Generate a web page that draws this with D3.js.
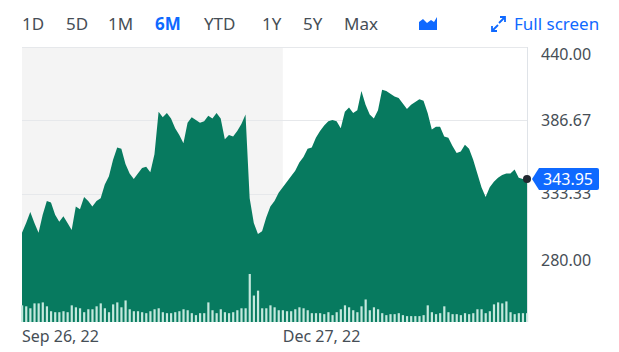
<!DOCTYPE html>
<html>
<head>
<meta charset="utf-8">
<script src="https://cdn.jsdelivr.net/npm/d3@7"></script>
<style>
  body { margin: 0; background: #fff; }
  svg { display: block; font-family: "Noto Sans", "Open Sans", sans-serif; }
</style>
</head>
<body>
<div id="chart"></div>
<script>
// range buttons on top
var ranges = ["1D", "5D", "1M", "6M", "YTD", "1Y", "5Y", "Max"];
var activeRange = "6M";

// daily close, Sep 26 2022 .. Mar 2023
var prices = [305, 312, 320, 312, 305, 318, 328, 327, 318, 313,
  317, 312, 307, 324, 322, 331, 328, 324, 328, 330,
  340, 346, 358, 367, 366, 355, 348, 344, 348, 352,
  353, 349, 362, 393, 389, 392, 388, 381, 376, 370,
  385, 389, 387, 385, 386, 390, 388, 392, 388, 373,
  376, 375, 379, 384, 391, 330, 312, 304, 306, 316,
  324, 328, 334, 338, 342, 346, 350, 356, 360, 366,
  367, 374, 379, 383, 386, 387, 386, 381, 393, 396,
  392, 394, 408, 398, 391, 388, 394, 409, 408, 406,
  404, 403, 399, 395, 398, 400, 402, 401, 392, 380,
  382, 382, 375, 374, 368, 363, 364, 369, 366, 358,
  348, 338, 331, 338, 342, 345, 347, 348, 348, 351,
  345, 344, 343.95];

// daily volume (millions)
var volumes = [1.7, 1.6, 1.4, 1.9, 1.9, 2.0, 1.6, 1.1, 1.0, 1.0,
  1.1, 1.0, 1.7, 1.5, 1.4, 1.0, 1.3, 1.3, 1.6, 1.9,
  1.4, 1.0, 1.8, 2.0, 1.5, 2.2, 1.3, 1.1, 1.1, 1.0,
  0.9, 1.1, 1.3, 1.4, 1.0, 0.9, 0.9, 1.0, 1.1, 1.3,
  1.2, 0.9, 0.7, 0.9, 0.9, 2.0, 1.2, 0.9, 1.3, 1.0,
  0.9, 1.0, 1.2, 1.4, 1.4, 4.9, 2.7, 3.2, 1.4, 1.4,
  1.7, 1.5, 1.2, 1.2, 1.1, 1.1, 1.3, 1.5, 1.4, 1.2,
  0.9, 0.9, 0.9, 0.8, 1.0, 0.7, 1.0, 1.3, 1.7, 1.5,
  1.2, 1.0, 1.6, 2.3, 1.2, 1.5, 1.3, 0.9, 0.7, 0.8,
  0.8, 0.9, 0.7, 0.6, 0.6, 0.6, 0.6, 0.7, 1.7, 1.0,
  0.8, 0.9, 1.6, 1.0, 0.8, 0.8, 0.7, 0.9, 0.8, 0.9,
  1.3, 1.3, 0.9, 1.1, 1.8, 2.0, 1.9, 2.1, 1.0, 0.8,
  0.9, 0.9, 0.9];

var yTicks = [440, 386.67, 333.33, 280];
var xTickIdx = [0, 63];
var xTickLabels = ["Sep 26, 22", "Dec 27, 22"];
var shadeEndIdx = 63;
var lastPrice = 343.95;

var W = 619, H = 352;
var plotLeft = 22, plotRight = 527, plotTop = 47, plotBottom = 322;

var svg = d3.select("#chart").append("svg")
  .attr("width", W)
  .attr("height", H);

var x = d3.scaleLinear().domain([0, prices.length - 1]).range([plotLeft, plotRight]);
var y = d3.scaleLinear().domain([280, 440]).range([267, plotTop]);
var v = d3.scaleLinear().domain([0, 5]).range([0, 49]);

// toolbar
var btnX = [22, 66, 108, 155, 204, 262, 303, 344];
svg.selectAll("text.range")
  .data(ranges)
  .enter()
  .append("text")
  .attr("class", "range")
  .attr("x", (d, i) => btnX[i])
  .attr("y", 30)
  .attr("font-size", 17)
  .attr("font-weight", d => d == activeRange ? 700 : 400)
  .attr("fill", d => d == activeRange ? "#0f69ff" : "#464e56")
  .text(d => d);

// chart type icon
svg.append("path")
  .attr("d", "M419,30 L419,22 L423,19 L427,23 L431,20 L434,22 L437,17 L437,30 Z")
  .attr("fill", "#0f69ff");

// full screen icon
var fs = svg.append("g").attr("stroke", "#0f69ff").attr("stroke-width", 1.8).attr("fill", "none");
fs.append("path").attr("d", "M492,31 L498,25 M492,26 L492,31 L497,31");
fs.append("path").attr("d", "M505,17 L499,23 M500,17 L505,17 L505,22");
svg.append("text")
  .attr("x", 514)
  .attr("y", 30)
  .attr("font-size", 17)
  .attr("fill", "#0f69ff")
  .text("Full screen");

// shaded part of plot
svg.append("rect")
  .attr("x", plotLeft)
  .attr("y", plotTop)
  .attr("width", x(shadeEndIdx) - plotLeft)
  .attr("height", plotBottom - plotTop)
  .attr("fill", "#f4f4f4");

// grid lines
svg.selectAll("line.grid")
  .data(yTicks)
  .enter()
  .append("line")
  .attr("class", "grid")
  .attr("x1", plotLeft)
  .attr("x2", plotRight)
  .attr("y1", d => Math.round(y(d)) + 0.5)
  .attr("y2", d => Math.round(y(d)) + 0.5)
  .attr("stroke", "#e6e8eb");

// price area
var area = d3.area()
  .x((d, i) => x(i))
  .y0(plotBottom)
  .y1(d => y(d));

svg.append("path")
  .datum(prices)
  .attr("d", area)
  .attr("fill", "#077a5f");

// volume bars
svg.selectAll("rect.vol")
  .data(volumes)
  .enter()
  .append("rect")
  .attr("class", "vol")
  .attr("x", (d, i) => x(i) - 1)
  .attr("y", d => plotBottom - v(d))
  .attr("width", 2.2)
  .attr("height", d => v(d))
  .attr("fill", "#c4e8dd");

// right axis line
svg.append("line")
  .attr("x1", plotRight + 0.5)
  .attr("x2", plotRight + 0.5)
  .attr("y1", plotTop)
  .attr("y2", plotBottom)
  .attr("stroke", "#dfe3e8");

// y labels
svg.selectAll("text.ylab")
  .data(yTicks)
  .enter()
  .append("text")
  .attr("class", "ylab")
  .attr("x", 541)
  .attr("y", d => Math.min(Math.max(y(d), 54), 260))
  .attr("dy", "0.35em")
  .attr("font-size", 16)
  .attr("fill", "#464e56")
  .text(d => d.toFixed(2));

// x labels
svg.selectAll("text.xlab")
  .data(xTickIdx)
  .enter()
  .append("text")
  .attr("class", "xlab")
  .attr("x", d => x(d))
  .attr("y", 342)
  .attr("font-size", 16)
  .attr("fill", "#464e56")
  .text((d, i) => xTickLabels[i]);

// current price marker
var py = y(lastPrice);
svg.append("path")
  .attr("d", `M${plotRight + 5},${py} L${plotRight + 12},${py - 11} L${plotRight + 70},${py - 11} Q${plotRight + 72},${py - 11} ${plotRight + 72},${py - 9} L${plotRight + 72},${py + 9} Q${plotRight + 72},${py + 11} ${plotRight + 70},${py + 11} L${plotRight + 12},${py + 11} Z`)
  .attr("fill", "#0f69ff");
svg.append("text")
  .attr("x", plotRight + 41)
  .attr("y", py)
  .attr("dy", "0.35em")
  .attr("text-anchor", "middle")
  .attr("font-size", 16)
  .attr("fill", "#fff")
  .text(lastPrice.toFixed(2));
svg.append("circle")
  .attr("cx", plotRight)
  .attr("cy", py)
  .attr("r", 4)
  .attr("fill", "#232a31");
</script>
</body>
</html>
